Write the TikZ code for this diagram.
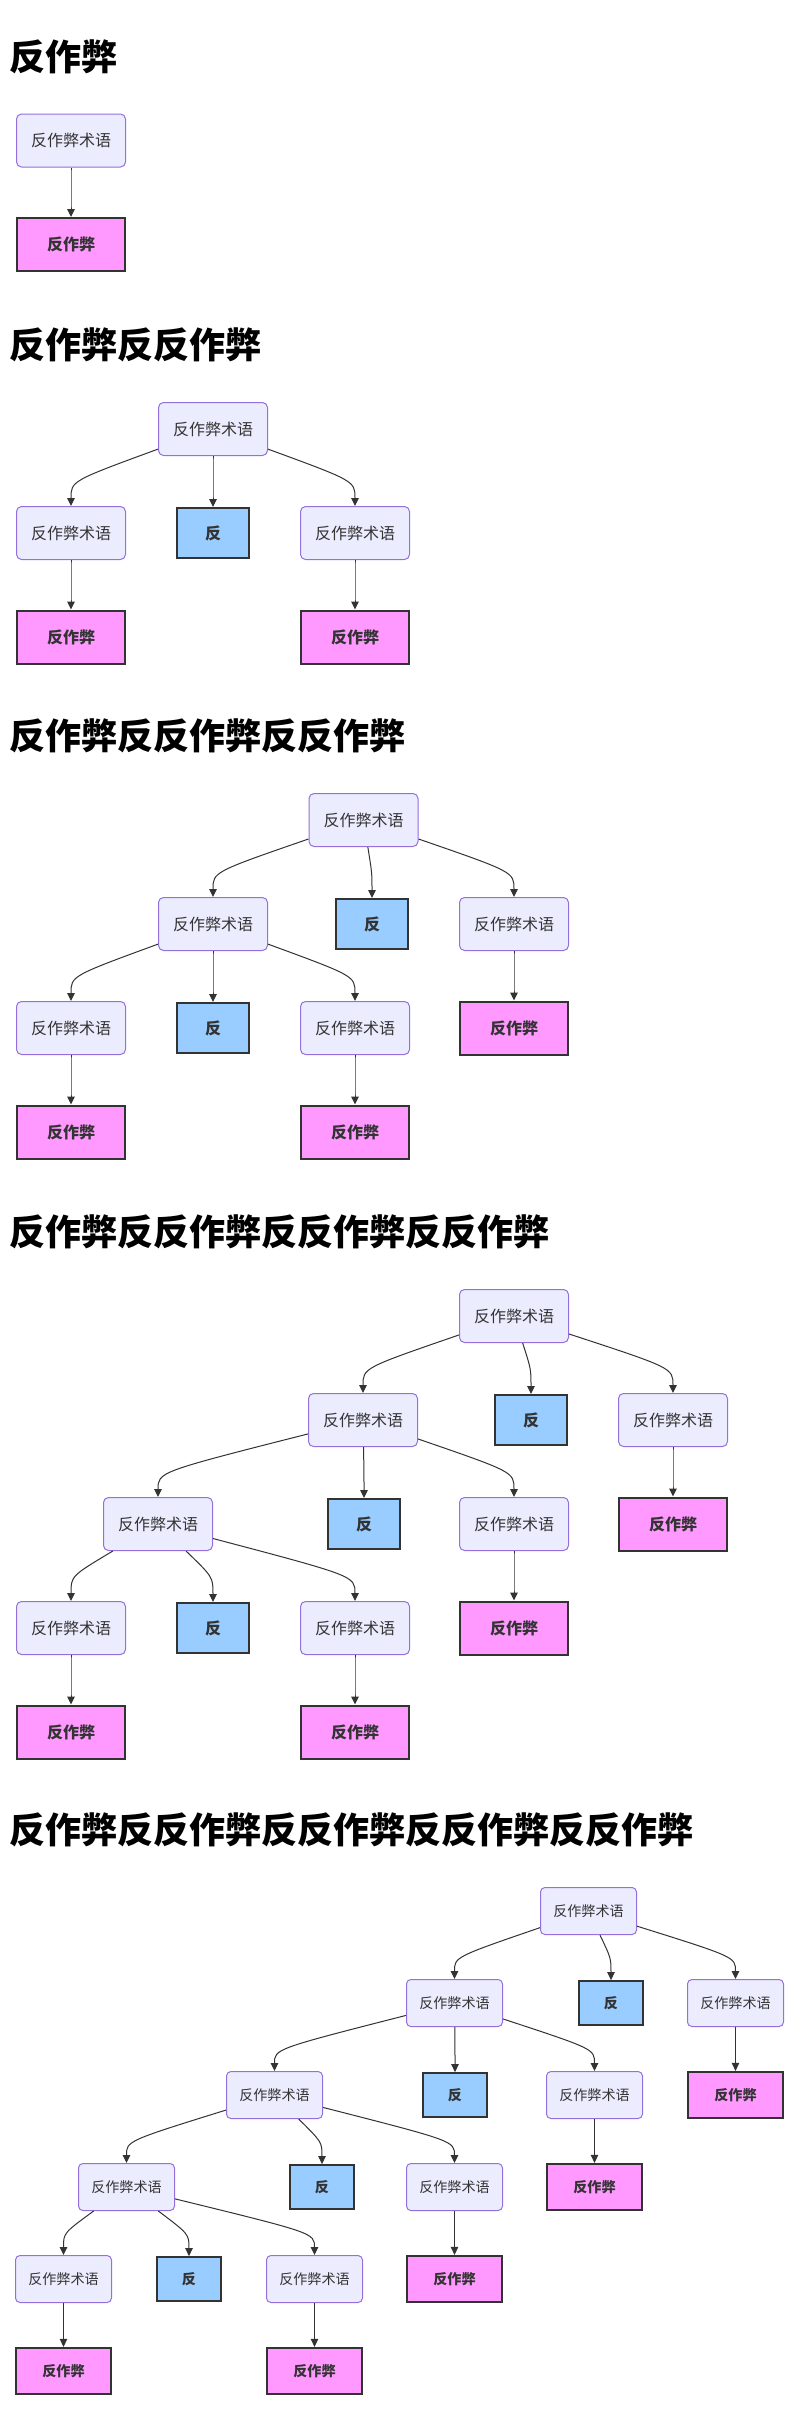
\documentclass[tikz,border=0pt]{standalone}
\usepackage{fontspec}
\usepackage{tikz}
\usetikzlibrary{arrows.meta}
\newfontfamily\cjk{Noto Sans CJK SC}
\definecolor{termfill}{HTML}{ECECFF}
\definecolor{termline}{HTML}{9370DB}
\definecolor{pinkfill}{HTML}{FF99FF}
\definecolor{bluefill}{HTML}{99CCFF}
\definecolor{darkline}{HTML}{333333}
\tikzset{title/.style={anchor=west,inner sep=0pt,text=black,font=\cjk\bfseries\fontsize{36}{40}\selectfont},
  box/.style={inner sep=0pt,text=darkline},
  term/.style={box,draw=termline,fill=termfill,rounded corners=5pt,line width=1pt,minimum width=109pt,minimum height=53pt,font=\cjk\fontsize{16}{19}\selectfont},
  hit/.style={box,draw=darkline,fill=pinkfill,line width=2pt,minimum width=108pt,minimum height=53pt,font=\cjk\bfseries\fontsize{16}{19}\selectfont},
  ban/.style={box,draw=darkline,fill=bluefill,line width=2pt,minimum width=72pt,minimum height=50pt,font=\cjk\bfseries\fontsize{16}{19}\selectfont},
  term5/.style={term,rounded corners=4.4pt,minimum width=96pt,minimum height=47pt,font=\cjk\fontsize{14.1}{17}\selectfont},
  hit5/.style={hit,line width=1.8pt,minimum width=95pt,minimum height=46.5pt,font=\cjk\bfseries\fontsize{14.1}{17}\selectfont},
  ban5/.style={ban,line width=1.8pt,minimum width=64pt,minimum height=44pt,font=\cjk\bfseries\fontsize{14.1}{17}\selectfont},
  flow/.style={->,draw=darkline,line width=1pt}}
\newcommand{\conn}[3][25pt]{\draw[flow] (#2) .. controls ([yshift=#1]#3.north) .. (#3);}

\begin{document}
\begin{tikzpicture}[x=1pt,y=-1pt,>={Triangle[length=8pt,width=7.5pt]}]
      \fill[white] (0,0) rectangle (800,2417);
      \useasboundingbox (0,0) rectangle (800,2417);

      %1つ目
      \node[title] (h1) at (9,56.5) {反作弊};
      \node[term] (r1) at (71,140.5) {反作弊术语};
      \node[hit] (p1) at (71,244.5) {反作弊};
      \conn{r1}{p1}

      %2つ目
      \node[title] (h2) at (9,345) {反作弊反反作弊};
      \node[term] (r2) at (213,429) {反作弊术语};
      \node[term] (r2l) at (71,533) {反作弊术语};
      \node[ban] (b2) at (213,533) {反};
      \node[term] (r2r) at (355,533) {反作弊术语};
      \node[hit] (p2l) at (71,637) {反作弊};
      \node[hit] (p2r) at (355,637) {反作弊};
      \conn{r2}{r2l}
      \conn{r2}{b2}
      \conn{r2}{r2r}
      \conn{r2l}{p2l}
      \conn{r2r}{p2r}

      %3つ目
      \node[title] (h3) at (9,736) {反作弊反反作弊反反作弊};
      \node[term] (r3) at (363.5,820) {反作弊术语};
      \node[term] (r3l) at (213,924) {反作弊术语};
      \node[ban] (b3) at (372,924) {反};
      \node[term] (r3r) at (514,924) {反作弊术语};
      \node[term] (r3ll) at (71,1028) {反作弊术语};
      \node[ban] (b3l) at (213,1028) {反};
      \node[term] (r3lr) at (355,1028) {反作弊术语};
      \node[hit] (p3r) at (514,1028) {反作弊};
      \node[hit] (p3ll) at (71,1132) {反作弊};
      \node[hit] (p3lr) at (355,1132) {反作弊};
      \conn{r3}{r3l}
      \conn{r3}{b3}
      \conn{r3}{r3r}
      \conn{r3l}{r3ll}
      \conn{r3l}{b3l}
      \conn{r3l}{r3lr}
      \conn{r3r}{p3r}
      \conn{r3ll}{p3ll}
      \conn{r3lr}{p3lr}

      %4つ目
      \node[title] (h4) at (9,1232) {反作弊反反作弊反反作弊反反作弊};
      \node[term] (r4) at (514,1316) {反作弊术语};
      \node[term] (r4l) at (363,1420) {反作弊术语};
      \node[ban] (b4) at (531,1420) {反};
      \node[term] (r4r) at (673,1420) {反作弊术语};
      \node[term] (r4ll) at (158,1524) {反作弊术语};
      \node[ban] (b4l) at (364,1524) {反};
      \node[term] (r4lr) at (514,1524) {反作弊术语};
      \node[hit] (p4r) at (673,1524) {反作弊};
      \node[term] (r4lll) at (71,1628) {反作弊术语};
      \node[ban] (b4ll) at (213,1628) {反};
      \node[term] (r4llr) at (355,1628) {反作弊术语};
      \node[hit] (p4lr) at (514,1628) {反作弊};
      \node[hit] (p4lll) at (71,1732) {反作弊};
      \node[hit] (p4llr) at (355,1732) {反作弊};
      \conn{r4}{r4l}
      \conn{r4}{b4}
      \conn{r4}{r4r}
      \conn{r4l}{r4ll}
      \conn{r4l}{b4l}
      \conn{r4l}{r4lr}
      \conn{r4r}{p4r}
      \conn{r4ll}{r4lll}
      \conn{r4ll}{b4ll}
      \conn{r4ll}{r4llr}
      \conn{r4lr}{p4lr}
      \conn{r4lll}{p4lll}
      \conn{r4llr}{p4llr}

      %5つ目（少し縮小）
      \node[title] (h5) at (9,1830) {反作弊反反作弊反反作弊反反作弊反反作弊};
      \node[term5] (r5) at (588.5,1911) {反作弊术语};
      \node[term5] (r5l) at (454.5,2003) {反作弊术语};
      \node[ban5] (b5) at (611,2003) {反};
      \node[term5] (r5r) at (735.5,2003) {反作弊术语};
      \node[term5] (r5ll) at (274.5,2095) {反作弊术语};
      \node[ban5] (b5l) at (455,2095) {反};
      \node[term5] (r5lr) at (594.5,2095) {反作弊术语};
      \node[hit5] (p5r) at (735.5,2095) {反作弊};
      \node[term5] (r5lll) at (126.5,2187) {反作弊术语};
      \node[ban5] (b5ll) at (322,2187) {反};
      \node[term5] (r5llr) at (454.5,2187) {反作弊术语};
      \node[hit5] (p5lr) at (594.5,2187) {反作弊};
      \node[term5] (r5llll) at (63.5,2279) {反作弊术语};
      \node[ban5] (b5lll) at (189,2279) {反};
      \node[term5] (r5lllr) at (314.5,2279) {反作弊术语};
      \node[hit5] (p5llr) at (454.5,2279) {反作弊};
      \node[hit5] (p5llll) at (63.5,2371) {反作弊};
      \node[hit5] (p5lllr) at (314.5,2371) {反作弊};
      \conn[22pt]{r5}{r5l}
      \conn[22pt]{r5}{b5}
      \conn[22pt]{r5}{r5r}
      \conn[22pt]{r5l}{r5ll}
      \conn[22pt]{r5l}{b5l}
      \conn[22pt]{r5l}{r5lr}
      \conn[22pt]{r5r}{p5r}
      \conn[22pt]{r5ll}{r5lll}
      \conn[22pt]{r5ll}{b5ll}
      \conn[22pt]{r5ll}{r5llr}
      \conn[22pt]{r5lr}{p5lr}
      \conn[22pt]{r5lll}{r5llll}
      \conn[22pt]{r5lll}{b5lll}
      \conn[22pt]{r5lll}{r5lllr}
      \conn[22pt]{r5llr}{p5llr}
      \conn[22pt]{r5llll}{p5llll}
      \conn[22pt]{r5lllr}{p5lllr}

\end{tikzpicture}
\end{document}
